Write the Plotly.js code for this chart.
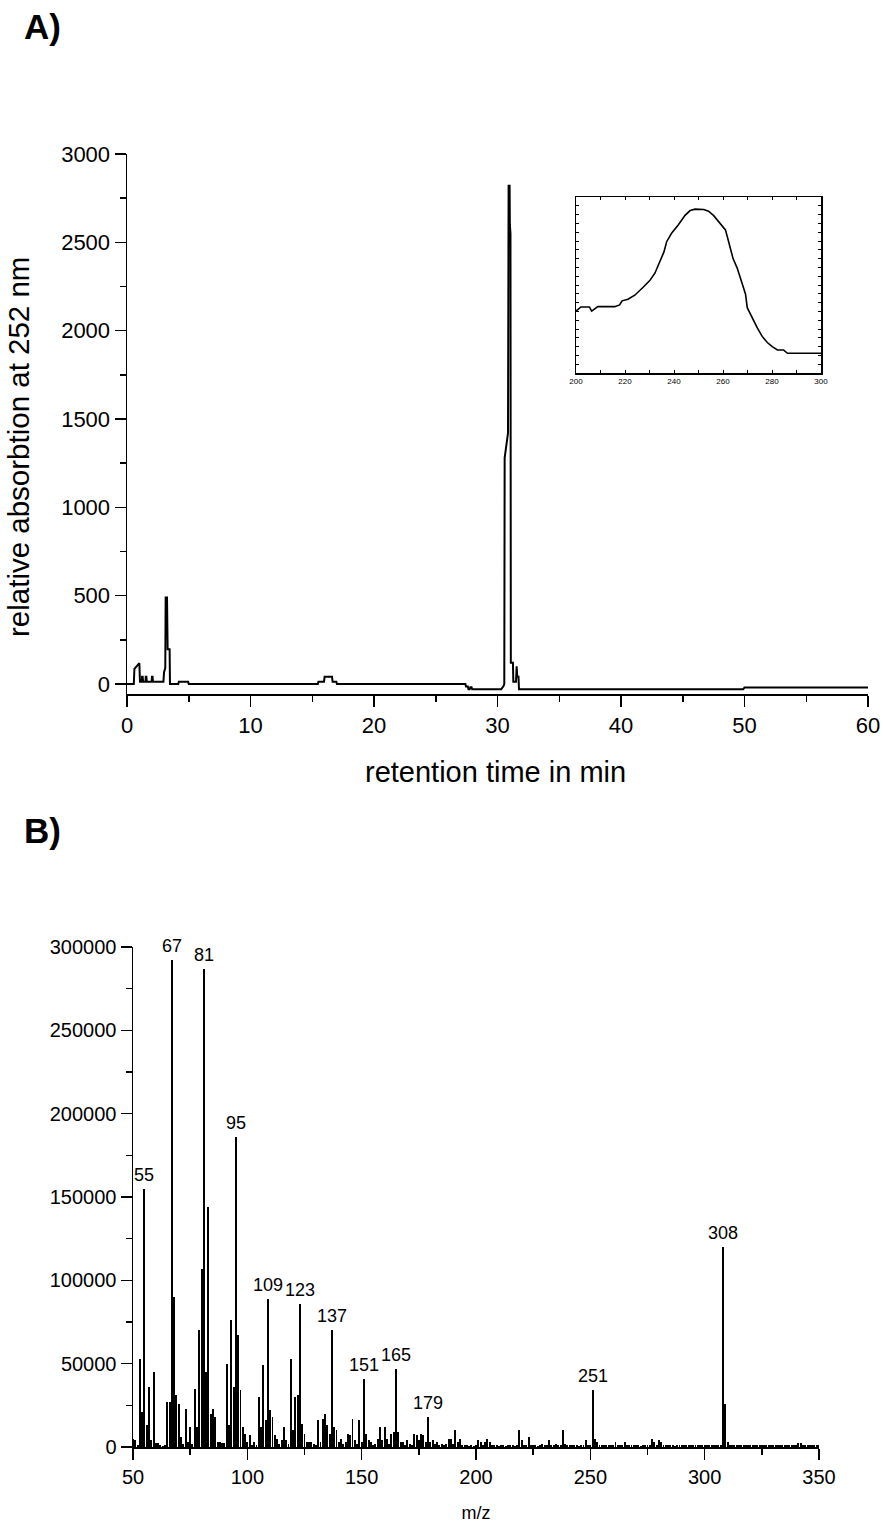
<!DOCTYPE html>
<html>
<head>
<meta charset="utf-8">
<script src="https://cdn.plot.ly/plotly-3.0.1.min.js"></script>
<style>html,body{margin:0;padding:0;background:#fff;}#chart{width:883px;height:1523px;}</style>
</head>
<body>
<div id="chart"></div>
<script>
// ---- Panel A: HPLC chromatogram (retention time in min, relative absorption at 252 nm)
const rtTime = [0, 0.55, 0.6, 0.97, 1.0, 1.05, 1.2, 1.22, 1.27, 1.3, 1.5, 1.52, 1.57, 1.6, 2.0, 2.02, 2.07, 2.1, 2.95, 3.0, 3.1, 3.13, 3.24, 3.29, 3.45, 3.48, 4.15, 4.2, 4.95, 5.0, 15.45, 15.5, 15.95, 16.0, 16.6, 16.65, 16.95, 17.0,
  27.4, 27.45, 27.6, 27.65, 27.75, 27.8, 27.9, 27.95, 30.3, 30.5, 30.55, 30.58, 30.85, 30.9, 30.98, 31.0, 31.05, 31.08, 31.25, 31.28, 31.5, 31.55, 31.6, 31.7, 31.74, 49.9, 50.0, 60];
const rtAbs = [0, 0, 85, 117, 117, 13, 13, 40, 40, 13, 13, 40, 40, 13, 13, 40, 40, 13, 13, 66, 90, 489, 489, 196, 196, 0, 0, 13, 13, 0, 0, 13, 13, 40, 40, 13, 13, 0,
  0, -15, -15, -30, -30, -19, -19, -30, -30, -10, 0, 1280, 1420, 2820, 2820, 2600, 2550, 120, 120, 13, 13, 100, 40, 40, -30, -30, -20, -20];

// ---- Inset: UV spectrum (nm, relative units)
const uvNm = [200, 202, 205.5, 206.4, 208.9, 215.8, 217.8, 218.8, 221.2, 224, 227.4, 230.1, 232.2, 233.6, 235.9, 237, 239, 241.8, 244.5, 246.6, 248.6, 252.1, 254.1, 256.2, 258.9, 261, 262.3, 264.1, 265.8, 267.8, 269.2, 269.9, 271.9, 274, 276, 278.1, 280.1, 282.2, 284.7, 286.3, 300];
const uvAbs = [0.352, 0.375, 0.375, 0.352, 0.377, 0.377, 0.387, 0.41, 0.419, 0.442, 0.487, 0.525, 0.567, 0.615, 0.688, 0.746, 0.794, 0.842, 0.896, 0.923, 0.931, 0.929, 0.919, 0.894, 0.852, 0.813, 0.746, 0.65, 0.596, 0.515, 0.448, 0.371, 0.313, 0.256, 0.208, 0.173, 0.15, 0.131, 0.131, 0.112, 0.112];
const uvTickVals = [200, 210, 220, 230, 240, 250, 260, 270, 280, 290, 300];
const uvTickText = ['200', '', '220', '', '240', '', '260', '', '280', '', '300'];

// ---- Panel B: mass spectrum (m/z, intensity)
const mz = [
  50, 51, 52, 53, 54, 55, 56, 57, 58, 59,
  60, 61, 62, 63, 64, 65, 66, 67, 68, 69,
  70, 71, 72, 73, 74, 75, 76, 77, 78, 79,
  80, 81, 82, 83, 84, 85, 86, 87, 88, 89,
  90, 91, 92, 93, 94, 95, 96, 97, 98, 99,
  100, 101, 102, 103, 104, 105, 106, 107, 108, 109,
  110, 111, 112, 113, 114, 115, 116, 117, 118, 119,
  120, 121, 122, 123, 124, 125, 126, 127, 128, 129,
  130, 131, 132, 133, 134, 135, 136, 137, 138, 139,
  140, 141, 142, 143, 144, 145, 146, 147, 148, 149,
  150, 151, 152, 153, 154, 155, 156, 157, 158, 159,
  160, 161, 162, 163, 164, 165, 166, 167, 168, 169,
  170, 171, 172, 173, 174, 175, 176, 177, 178, 179,
  180, 181, 182, 183, 184, 185, 186, 187, 188, 189,
  190, 191, 192, 193, 194, 195, 196, 197, 198, 199,
  200, 201, 202, 203, 204, 205, 206, 207, 208, 209,
  210, 211, 212, 213, 214, 215, 216, 217, 218, 219,
  220, 221, 222, 223, 224, 225, 226, 227, 228, 229,
  230, 231, 232, 233, 234, 235, 236, 237, 238, 239,
  240, 241, 242, 243, 244, 245, 246, 247, 248, 249,
  250, 251, 252, 253, 254, 255, 256, 257, 258, 259,
  260, 261, 262, 263, 264, 265, 266, 267, 268, 269,
  270, 271, 272, 273, 274, 275, 276, 277, 278, 279,
  280, 281, 282, 283, 284, 285, 286, 287, 288, 289,
  290, 291, 292, 293, 294, 295, 296, 297, 298, 299,
  300, 301, 302, 303, 304, 305, 306, 307, 308, 309,
  310, 311, 312, 313, 314, 315, 316, 317, 318, 319,
  320, 321, 322, 323, 324, 325, 326, 327, 328, 329,
  330, 331, 332, 333, 334, 335, 336, 337, 338, 339,
  340, 341, 342, 343, 344, 345, 346, 347, 348, 349,
  350];
const intensity = [
  5000, 4000, 1500, 53000, 21000, 155000, 13000, 36000, 4000, 45000,
  2500, 2500, 1000, 800, 1000, 27000, 27000, 292000, 90000, 31000,
  26000, 6000, 2000, 23000, 3000, 12000, 2000, 35000, 12000, 70000,
  107000, 287000, 45000, 144000, 20000, 23000, 18000, 3000, 3000, 2500,
  2500, 50000, 13000, 76000, 36000, 186000, 67000, 34000, 12000, 8000,
  3000, 7000, 1000, 3000, 1000, 30000, 12000, 49000, 16000, 89000,
  22000, 18000, 7000, 5000, 2000, 4000, 12000, 4000, 2000, 53000,
  10000, 30000, 31000, 86000, 14000, 8000, 3000, 3000, 3000, 2000,
  1000, 16000, 3000, 17000, 20000, 13000, 8000, 70000, 12000, 10000,
  3000, 5000, 2000, 3000, 8000, 7000, 17000, 4000, 2000, 16000,
  3000, 41000, 8000, 4000, 3000, 1000, 2000, 5000, 12000, 4000,
  12000, 5000, 2000, 8000, 9000, 47000, 9000, 3000, 3000, 1000,
  4000, 2000, 1000, 8000, 7000, 4000, 8000, 7000, 3000, 18000,
  3000, 4000, 2000, 3000, 1000, 2000, 1000, 2000, 5000, 5000,
  2000, 10000, 3000, 5000, 1000, 1000, 1500, 500, 1000, 500,
  1000, 4000, 3000, 1000, 3000, 5000, 3000, 1000, 1000, 1000,
  500, 1000, 1000, 500, 1000, 1000, 1000, 500, 1000, 10000,
  4000, 1000, 1500, 6000, 1000, 1000, 1500, 500, 1000, 2000,
  1000, 1000, 4000, 1000, 1000, 2000, 1000, 1000, 10000, 2000,
  1000, 1000, 1500, 1000, 1000, 500, 1000, 1000, 4000, 1000,
  1000, 34000, 5000, 3000, 1000, 1000, 1500, 1000, 1000, 1500,
  1000, 3000, 1000, 1000, 1000, 3000, 1000, 1000, 1000, 1000,
  1000, 1000, 500, 1000, 1000, 1000, 1000, 5000, 3000, 1000,
  4000, 3000, 1000, 1000, 1000, 1000, 1000, 500, 1000, 1000,
  1000, 1000, 1000, 1000, 1000, 1000, 1000, 1000, 1000, 1000,
  1000, 1000, 1000, 1000, 1000, 1000, 1000, 1500, 120000, 26000,
  3000, 1000, 1000, 1000, 1000, 1000, 1000, 1000, 1000, 1000,
  1000, 1000, 1000, 1000, 1000, 1000, 1000, 1000, 1000, 1000,
  1000, 1000, 1000, 1000, 1000, 1000, 1000, 1000, 1000, 1000,
  1000, 2500, 2500, 1000, 1000, 1000, 1000, 1000, 1000, 1000,
  1000];
const labelledPeaks = [55, 67, 81, 95, 109, 123, 137, 151, 165, 179, 251, 308];

const FONT = 'Liberation Sans, Arial, sans-serif';
const BLACK = '#000000';

const traces = [
  {x: rtTime, y: rtAbs, type: 'scatter', mode: 'lines', xaxis: 'x', yaxis: 'y',
   line: {color: BLACK, width: 2}, hoverinfo: 'skip', showlegend: false},
  {x: uvNm, y: uvAbs, type: 'scatter', mode: 'lines', xaxis: 'x3', yaxis: 'y3',
   line: {color: BLACK, width: 1.6}, hoverinfo: 'skip', showlegend: false},
  {x: mz, y: intensity, type: 'bar', xaxis: 'x2', yaxis: 'y2', width: 0.85,
   marker: {color: BLACK, line: {width: 0}}, hoverinfo: 'skip', showlegend: false}
];

const W = 883, H = 1523;
const px = v => v / W;
const py = v => 1 - v / H;

const commonAxis = {
  showgrid: false, zeroline: false, showline: true, linecolor: BLACK, linewidth: 1.5,
  ticks: 'outside', tickcolor: BLACK, tickwidth: 1.5, ticklen: 11,
  color: BLACK, automargin: false
};
const minorTicks = (d) => ({dtick: d, ticks: 'outside', ticklen: 6, tickwidth: 1.5, tickcolor: BLACK});

const annotations = labelledPeaks.map(p => ({
  x: p, y: intensity[mz.indexOf(p)], xref: 'x2', yref: 'y2', text: String(p),
  showarrow: false, xanchor: 'center', yanchor: 'bottom', yshift: 2,
  font: {family: FONT, size: 18, color: BLACK}
}));
annotations.push({x: px(22), y: py(26), xref: 'paper', yref: 'paper', text: '<b>A)</b>',
  showarrow: false, xanchor: 'left', yanchor: 'middle', font: {family: FONT, size: 35, color: BLACK}});
annotations.push({x: px(22), y: py(830), xref: 'paper', yref: 'paper', text: '<b>B)</b>',
  showarrow: false, xanchor: 'left', yanchor: 'middle', font: {family: FONT, size: 35, color: BLACK}});
// axis titles of panel A placed as in the reference
annotations.push({x: px(495), y: py(772), xref: 'paper', yref: 'paper', text: 'retention time in min',
  showarrow: false, xanchor: 'center', yanchor: 'middle', font: {family: FONT, size: 29, color: BLACK}});
annotations.push({x: px(19), y: py(447), xref: 'paper', yref: 'paper', text: 'relative absorbtion at 252 nm',
  showarrow: false, textangle: -90, xanchor: 'center', yanchor: 'middle', font: {family: FONT, size: 29.5, color: BLACK}});

const layout = {
  width: W, height: H,
  margin: {l: 0, r: 0, t: 0, b: 0},
  paper_bgcolor: '#ffffff', plot_bgcolor: 'rgba(0,0,0,0)',
  font: {family: FONT, color: BLACK},
  showlegend: false,
  bargap: 0,
  xaxis: Object.assign({}, commonAxis, {
    domain: [px(127), px(868)], range: [0, 60], anchor: 'y',
    tick0: 0, dtick: 10, minor: minorTicks(5),
    tickfont: {family: FONT, size: 22, color: BLACK}
  }),
  yaxis: Object.assign({}, commonAxis, {
    domain: [py(694), py(154)], range: [-57, 3000], anchor: 'x',
    tick0: 0, dtick: 500, minor: minorTicks(250),
    tickfont: {family: FONT, size: 22, color: BLACK}
  }),
  xaxis2: Object.assign({}, commonAxis, {
    domain: [px(133), px(819)], range: [50, 350], anchor: 'y2',
    tick0: 50, dtick: 50, minor: minorTicks(25),
    tickfont: {family: FONT, size: 20, color: BLACK},
    title: {text: 'm/z', font: {family: FONT, size: 18, color: BLACK}, standoff: 24}
  }),
  yaxis2: Object.assign({}, commonAxis, {
    domain: [py(1447), py(947)], range: [0, 300000], anchor: 'x2',
    tick0: 0, dtick: 50000, tickformat: 'd', minor: minorTicks(25000),
    tickfont: {family: FONT, size: 20, color: BLACK}
  }),
  xaxis3: {
    domain: [px(576), px(821)], range: [200, 300], anchor: 'y3',
    showgrid: false, zeroline: false, showline: true, linecolor: BLACK, linewidth: 1.5,
    mirror: 'ticks', ticks: 'inside', ticklen: 3, tickwidth: 1, tickcolor: BLACK,
    tickmode: 'array', tickvals: uvTickVals, ticktext: uvTickText,
    tickfont: {family: FONT, size: 8, color: BLACK}, automargin: false
  },
  yaxis3: {
    domain: [py(373), py(197)], range: [0, 1], anchor: 'x3',
    showgrid: false, zeroline: false, showline: true, linecolor: BLACK, linewidth: 1.5,
    mirror: 'ticks', ticks: 'inside', ticklen: 3, tickwidth: 1, tickcolor: BLACK,
    tick0: 0, dtick: 0.05, showticklabels: false, automargin: false
  },
  annotations: annotations
};

Plotly.newPlot('chart', traces, layout, {staticPlot: true, displayModeBar: false});
</script>
</body>
</html>
